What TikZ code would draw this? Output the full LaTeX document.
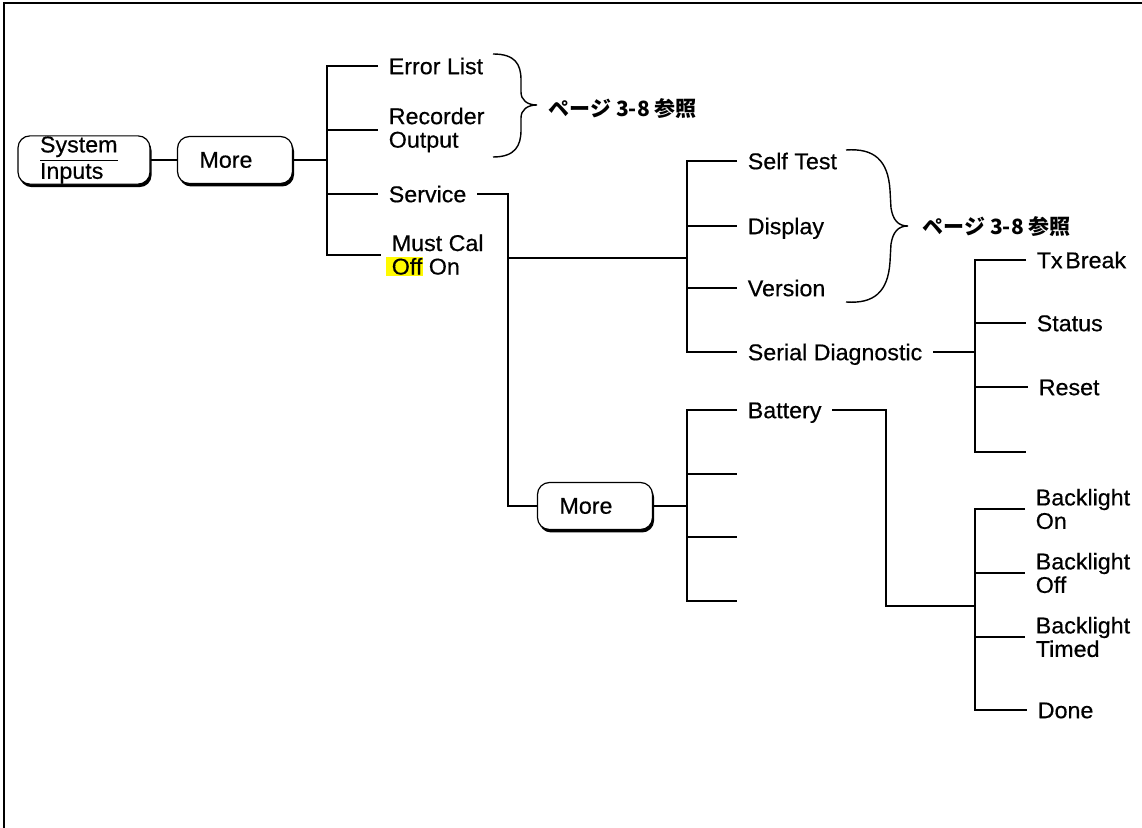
\documentclass[tikz,border=0pt]{standalone}
\usepackage{fontspec}
\setmainfont{Liberation Sans}[FakeStretch=1.02,FakeBold=0.5]
\newfontfamily\cjk{Noto Sans CJK JP}
\usetikzlibrary{shadows}
\definecolor{offyellow}{RGB}{255,250,0}
\newcommand{\hlword}[1]{{\setlength{\fboxsep}{0pt}\kern-3pt\colorbox{offyellow}{\kern3pt\rule[-0.5pt]{0pt}{9.3pt}#1\kern0.5pt}\kern-0.5pt}}
\tikzset{
  softkey/.style={draw,line width=0.6pt,fill=white,rounded corners=6pt,
    inner xsep=11pt,inner ysep=0.3pt,minimum height=23.5pt,align=left,
    drop shadow={shadow xshift=0.8pt,shadow yshift=-1.5pt,opacity=1,fill=black}},
  entry/.style={anchor=west,inner xsep=5pt,inner ysep=0pt,text height=8.2pt,text depth=0pt},
  entrytwo/.style={anchor=west,inner xsep=5pt,inner ysep=0pt,align=left},
  seeref/.style={anchor=west,inner sep=0pt,font=\fontsize{10.5}{12}\cjk\bfseries}
}
\begin{document}
\begin{tikzpicture}[x=0.5pt,y=-0.5pt,line width=0.8pt,every node/.style={font=\fontsize{11.4}{11.75}\selectfont}]
\useasboundingbox (0,0) rectangle (1142,828);
\draw[line width=1.2pt] (4,828) -- (4,3) -- (1142,3);
\node[softkey,text width=44pt] (sys) at (84,160) {\underline{System}\\Inputs};
\node[softkey,text width=35.5pt] (more1) at (235,160) {More};
\node[softkey,text width=35.5pt] (more2) at (595,506) {More};
\node[entry] (errlist) at (378,66) {Error List};
\node[entrytwo] (recorder) at (378,130) {Recorder\\Output};
\node[entry] (service) at (378,194) {Service};
\node[entrytwo] (mustcal) at (381,255) {Must Cal\\\hlword{Off} On};
\node[entry] (selftest) at (737,161) {Self Test};
\node[entry] (display) at (737,226) {Display};
\node[entry] (version) at (737,288) {Version};
\node[entry] (serial) at (737,352) {Serial Diagnostic};
\node[entry] (txbreak) at (1026,260) {Tx\hspace{0.12em}Break};
\node[entry] (status) at (1026,323) {Status};
\node[entry] (reset) at (1028,387) {Reset};
\node[entry] (battery) at (737,410) {Battery};
\node[entrytwo] (blon) at (1025,509) {Backlight\\On};
\node[entrytwo] (bloff) at (1025,573) {Backlight\\Off};
\node[entrytwo] (bltimed) at (1025,637) {Backlight\\Timed};
\node[entry] (done) at (1027,710) {Done};
\node[seeref] (see1) at (548,109) {ページ 3-8 参照};
\node[seeref] (see2) at (922,227) {ページ 3-8 参照};
\coordinate (m1) at (327,160);
\coordinate (s1) at (508,258);
\coordinate (s2) at (687,258);
\coordinate (d1) at (975,352);
\coordinate (d4) at (1026,452);
\coordinate (b1) at (687,506);
\coordinate (e2) at (737,474);
\coordinate (e3) at (737,537);
\coordinate (e4) at (737,601);
\coordinate (bt) at (886,606);
\coordinate (k1) at (975,606);
\draw (sys.east) -- (more1.west);
\draw (more1.east) -- (m1);
\draw (errlist.west) -| (m1) |- (mustcal.west);
\draw (m1 |- recorder.west) -- (recorder.west);
\draw (m1 |- service.west) -- (service.west);
\draw (service.east) -| (s1) |- (more2.west);
\draw (s1) -- (s2);
\draw (selftest.west) -| (s2) |- (serial.west);
\draw (s2 |- display.west) -- (display.west);
\draw (s2 |- version.west) -- (version.west);
\draw (serial.east) -- (d1);
\draw (txbreak.west) -| (d1) |- (d4);
\draw (d1 |- status.west) -- (status.west);
\draw (d1 |- reset.west) -- (reset.west);
\draw (more2.east) -- (b1);
\draw (battery.west) -| (b1) |- (e4);
\draw (b1 |- e2) -- (e2);
\draw (b1 |- e3) -- (e3);
\draw (battery.east) -| (bt) -- (k1);
\draw (blon.west) -| (k1) |- (done.west);
\draw (k1 |- bloff.west) -- (bloff.west);
\draw (k1 |- bltimed.west) -- (bltimed.west);
\draw[line width=0.7pt] (493,54) .. controls (515,54) and (521,64) .. (521,80) -- (521,92) .. controls (521,100) and (527,105) .. (537,105) .. controls (527,105) and (521,110) .. (521,118) -- (521,130) .. controls (521,146) and (515,157) .. (493,157);
\draw[line width=0.7pt] (846,150) .. controls (874,148) and (888,160) .. (890,190) -- (891,208) .. controls (893,220) and (898,226) .. (908,226) .. controls (898,226) and (893,232) .. (891,244) -- (890,262) .. controls (888,292) and (874,304) .. (846,302);
\end{tikzpicture}
\end{document}
